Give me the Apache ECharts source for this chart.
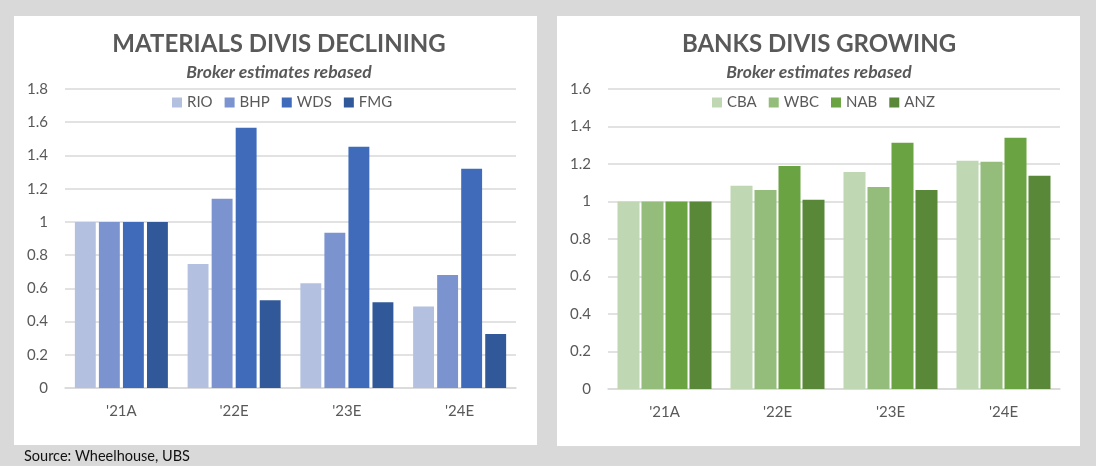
<!DOCTYPE html>
<html><head><meta charset="utf-8">
<script src="https://cdn.jsdelivr.net/npm/echarts@6/dist/echarts.min.js"></script>
<style>html,body{margin:0;padding:0;background:#d9d9d9}#c{width:1096px;height:466px}</style>
</head><body><div id="c"></div>
<script>
const categories = ["'21A", "'22E", "'23E", "'24E"];
const RIO = [1.0, 0.746, 0.63, 0.49];
const BHP = [1.0, 1.14, 0.934, 0.68];
const WDS = [1.0, 1.566, 1.452, 1.32];
const FMG = [1.0, 0.528, 0.516, 0.325];
const CBA = [1.0, 1.084, 1.158, 1.217];
const WBC = [1.0, 1.062, 1.078, 1.212];
const NAB = [1.0, 1.19, 1.313, 1.34];
const ANZ = [1.0, 1.01, 1.062, 1.137];
const leftNames = ['RIO', 'BHP', 'WDS', 'FMG'];
const rightNames = ['CBA', 'WBC', 'NAB', 'ANZ'];
const leftColors = ['#B4C0DF', '#7B93CF', '#3F6BBA', '#315898'];
const rightColors = ['#C0D7B4', '#94BD7B', '#6AA341', '#588838'];

const FONT = 'Lato';
const grey = '#595959';
const chart = echarts.init(document.getElementById('c'));
function bar(name, data, color, idx, gap, catGap) {
  return { name, type: 'bar', data, xAxisIndex: idx, yAxisIndex: idx,
    itemStyle: { color }, barGap: gap, barCategoryGap: catGap, animation: false };
}
function xa(idx) {
  return { type: 'category', data: categories, gridIndex: idx,
    axisLine: { lineStyle: { color: '#D9D9D9', width: 1.5 } }, axisTick: { show: false },
    axisLabel: { color: grey, fontSize: 15, fontFamily: FONT, margin: 16 } };
}
function ya(idx, max) {
  return { type: 'value', gridIndex: idx, min: 0, max, interval: 0.2,
    axisLine: { show: false }, axisTick: { show: false },
    splitLine: { lineStyle: { color: '#D9D9D9', width: 1.5 } },
    axisLabel: { color: grey, fontSize: 15, fontFamily: FONT, margin: 17 } };
}
function txt(x, y, text, size, weight, style, color, align) {
  return { type: 'text', x, y, style: { text, fontSize: size, fontWeight: weight, fontStyle: style,
    fontFamily: FONT, fill: color, align: align || 'center', verticalAlign: 'middle' } };
}
function leg(names, left) {
  return { data: names, left, top: 90, icon: 'rect', itemWidth: 10, itemHeight: 10, itemGap: 12,
    textStyle: { color: grey, fontSize: 15, fontFamily: FONT } };
}
chart.setOption({
  backgroundColor: '#D9D9D9',
  animation: false,
  graphic: [
    { type: 'rect', shape: { x: 14, y: 16, width: 523, height: 429 }, style: { fill: '#fff' }, z: -10 },
    { type: 'rect', shape: { x: 557, y: 16, width: 523, height: 430 }, style: { fill: '#fff' }, z: -10 },
    txt(279, 44, 'MATERIALS DIVIS DECLINING', 24, 'bold', 'normal', grey),
    txt(279, 72, 'Broker estimates rebased', 17.5, 'bold', 'italic', grey),
    txt(819, 44, 'BANKS DIVIS GROWING', 24, 'bold', 'normal', grey),
    txt(819, 72, 'Broker estimates rebased', 17.5, 'bold', 'italic', grey),
    txt(24, 456, 'Source: Wheelhouse, UBS', 14.5, 'normal', 'normal', '#111', 'left')
  ],
  legend: [leg(leftNames, 167), leg(rightNames, 707)],
  grid: [
    { left: 65, right: 580, top: 89, bottom: 78 },
    { left: 608, right: 36, top: 89, bottom: 77 }
  ],
  xAxis: [xa(0), xa(1)],
  yAxis: [ya(0, 1.8), ya(1, 1.6)],
  series: [
    bar('RIO', RIO, leftColors[0], 0, '15%', '17.5%'), bar('BHP', BHP, leftColors[1], 0, '15%', '17.5%'),
    bar('WDS', WDS, leftColors[2], 0, '15%', '17.5%'), bar('FMG', FMG, leftColors[3], 0, '15%', '17.5%'),
    bar('CBA', CBA, rightColors[0], 1, '9%', '16.8%'), bar('WBC', WBC, rightColors[1], 1, '9%', '16.8%'),
    bar('NAB', NAB, rightColors[2], 1, '9%', '16.8%'), bar('ANZ', ANZ, rightColors[3], 1, '9%', '16.8%')
  ]
});
</script></body></html>
